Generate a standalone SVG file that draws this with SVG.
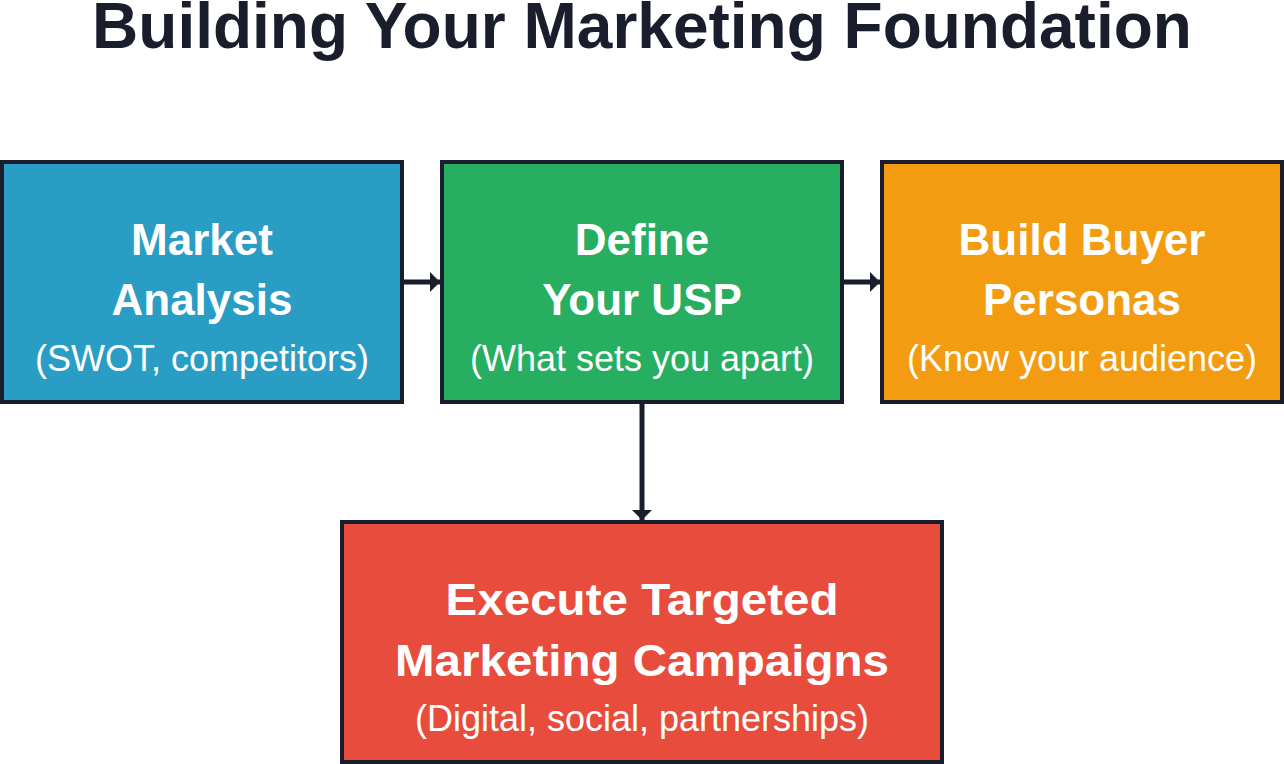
<svg xmlns="http://www.w3.org/2000/svg" width="1284" height="764" viewBox="0 0 1284 764">
<style>
.box{stroke:#1a1e2c;stroke-width:4}
.t{font-family:"Liberation Sans",Arial,sans-serif;fill:#fff;text-anchor:middle}
.h{font-size:44px;font-weight:bold}
.s{font-size:36px}
.title{font-family:"Liberation Sans",Arial,sans-serif;font-size:64px;font-weight:bold;fill:#1a1e2c;text-anchor:middle}
.c{stroke:#1a1e2c;stroke-width:5;fill:none}
</style>
<defs>
<marker id="ah" markerWidth="4" markerHeight="4" refX="2" refY="2" orient="auto" markerUnits="strokeWidth">
<path d="M0,0 L2,2 L0,4 Z" fill="#1a1e2c"/>
</marker>
</defs>
<rect width="1284" height="764" fill="#fff"/>
<text class="title" x="642" y="48">Building Your Marketing Foundation</text>
<g id="connectors">
<line class="c" x1="404" y1="282" x2="440" y2="282" marker-end="url(#ah)"/>
<line class="c" x1="844" y1="282" x2="880" y2="282" marker-end="url(#ah)"/>
<line class="c" x1="642" y1="404" x2="642" y2="520" marker-end="url(#ah)"/>
</g>
<g id="market-analysis">
<rect class="box" x="2" y="162" width="400" height="240" fill="#2a9dc5"/>
<text class="t h" x="202" y="255">Market</text>
<text class="t h" x="202" y="315">Analysis</text>
<text class="t s" x="202" y="371">(SWOT, competitors)</text>
</g>
<g id="define-usp">
<rect class="box" x="442" y="162" width="400" height="240" fill="#27ae60"/>
<text class="t h" x="642" y="255">Define</text>
<text class="t h" x="642" y="315">Your USP</text>
<text class="t s" x="642" y="371">(What sets you apart)</text>
</g>
<g id="buyer-personas">
<rect class="box" x="882" y="162" width="400" height="240" fill="#f39c12"/>
<text class="t h" x="1082" y="255">Build Buyer</text>
<text class="t h" x="1082" y="315">Personas</text>
<text class="t s" x="1082" y="371">(Know your audience)</text>
</g>
<g id="campaigns">
<rect class="box" x="342" y="522" width="600" height="240" fill="#e74c3c"/>
<text class="t h" x="642" y="615" textLength="393" lengthAdjust="spacingAndGlyphs">Execute Targeted</text>
<text class="t h" x="642" y="676" textLength="494" lengthAdjust="spacingAndGlyphs">Marketing Campaigns</text>
<text class="t s" x="642" y="731">(Digital, social, partnerships)</text>
</g>
</svg>
